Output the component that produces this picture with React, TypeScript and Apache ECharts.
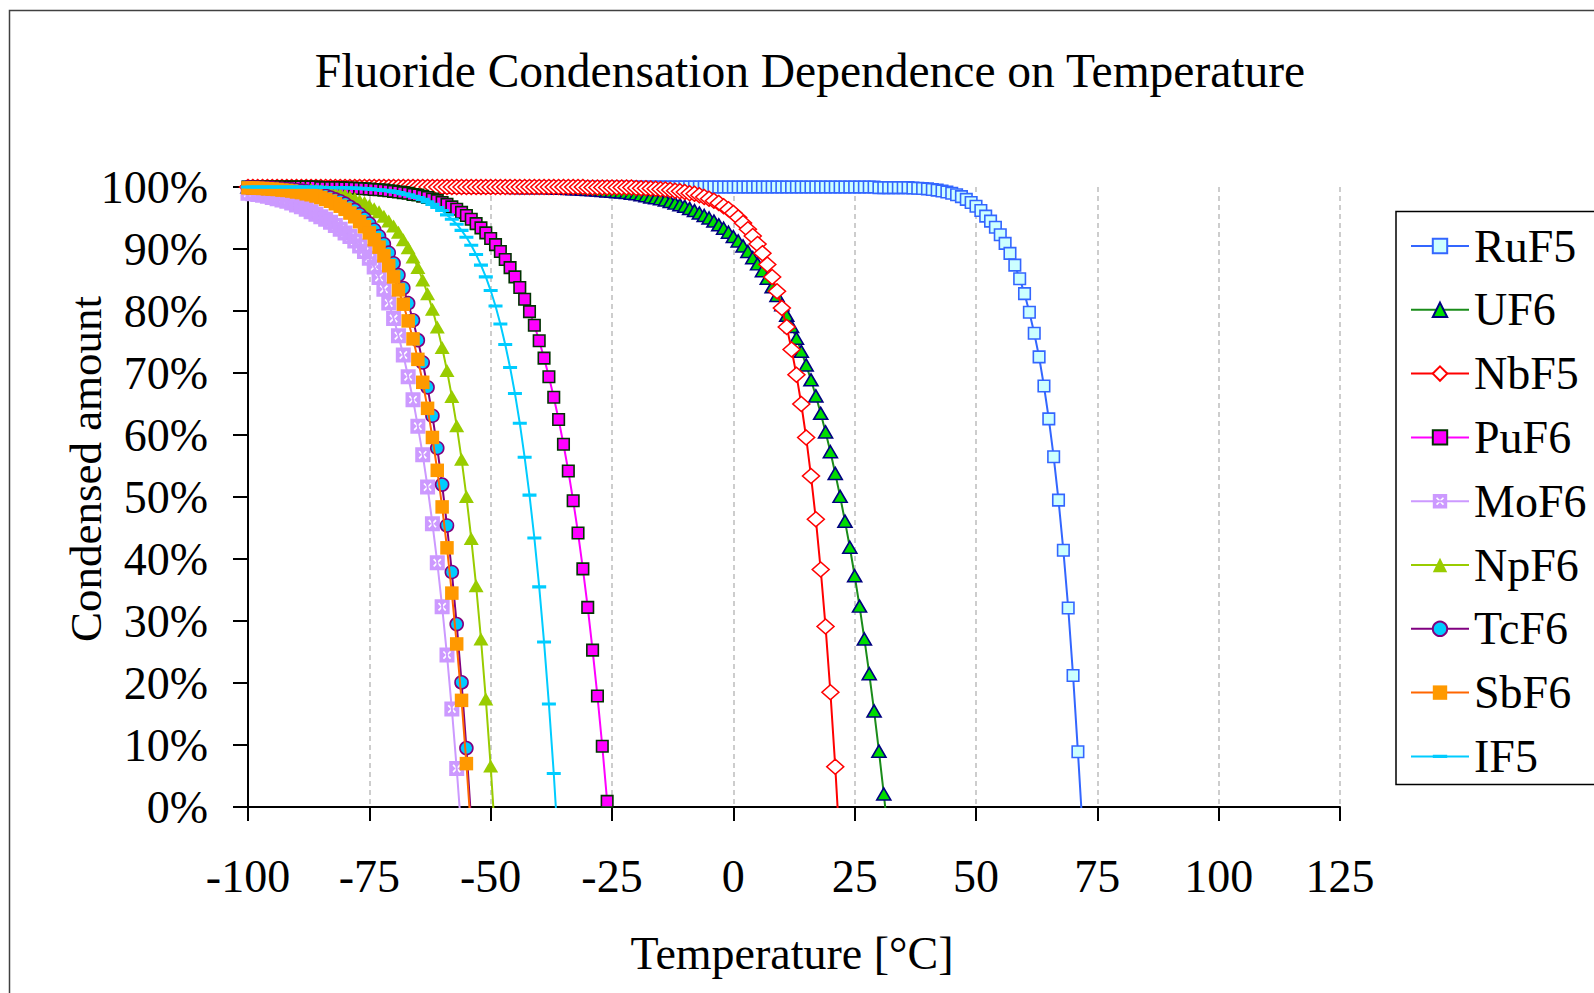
import React, { useEffect, useRef } from "react";
import * as echarts from "echarts";

// Temperatures run from T_START in steps of 1 °C (index i -> T_START + i)
const T_START = -100;

// Condensed amount [%] per series, one row = 10 °C
const RUF5 = [
  100, 100, 100, 100, 100, 100, 100, 100, 100, 100, // -100
  100, 100, 100, 100, 100, 100, 100, 100, 100, 100, // -90
  100, 100, 100, 100, 100, 100, 100, 100, 100, 100, // -80
  100, 100, 100, 100, 100, 100, 100, 100, 100, 100, // -70
  100, 100, 100, 100, 100, 100, 100, 100, 100, 100, // -60
  100, 100, 100, 100, 100, 100, 100, 100, 100, 100, // -50
  100, 100, 100, 100, 100, 100, 100, 100, 100, 100, // -40
  100, 100, 100, 100, 100, 100, 100, 100, 100, 100, // -30
  100, 100, 100, 100, 100, 100, 100, 100, 100, 100, // -20
  100, 100, 100, 100, 100, 100, 100, 100, 100, 100, // -10
  100, 100, 100, 100, 100, 100, 100, 100, 100, 100, // 0
  100, 100, 100, 100, 100, 100, 100, 100, 100, 100, // 10
  100, 100, 100, 100, 100, 100, 100, 100, 100, 100, // 20
  99.9, 99.9, 99.9, 99.9, 99.9, 99.9, 99.9, 99.85, 99.8, 99.75, // 30
  99.7, 99.6, 99.5, 99.35, 99.2, 99.0, 98.75, 98.45, 98.0, 97.5, // 40
  96.9, 96.2, 95.3, 94.5, 93.5, 92.3, 90.9, 89.3, 87.4, 85.2, // 50
  82.8, 79.8, 76.4, 72.6, 67.9, 62.6, 56.5, 49.5, 41.4, 32.1, // 60
  21.2, 8.9, -4, // 70
];

const UF6 = [
  100, 100, 100, 100, 100, 100, 100, 100, 100, 100, // -100
  100, 100, 100, 100, 100, 100, 100, 100, 100, 100, // -90
  100, 100, 100, 100, 100, 100, 100, 100, 100, 100, // -80
  100, 100, 100, 100, 100, 100, 100, 100, 100, 100, // -70
  100, 100, 100, 100, 100, 100, 100, 100, 100, 100, // -60
  100, 100, 100, 100, 100, 99.9, 99.9, 99.9, 99.9, 99.9, // -50
  99.9, 99.9, 99.9, 99.85, 99.8, 99.8, 99.75, 99.7, 99.7, 99.65, // -40
  99.6, 99.55, 99.5, 99.45, 99.35, 99.3, 99.25, 99.2, 99.1, 99.0, // -30
  98.9, 98.75, 98.6, 98.4, 98.25, 98.1, 97.9, 97.65, 97.4, 97.15, // -20
  96.9, 96.55, 96.2, 95.8, 95.4, 95.0, 94.5, 93.9, 93.35, 92.7, // -10
  92.0, 91.3, 90.5, 89.6, 88.6, 87.6, 86.5, 85.3, 83.9, 82.5, // 0
  81.0, 79.3, 77.5, 75.6, 73.5, 71.3, 68.9, 66.3, 63.5, 60.5, // 10
  57.3, 53.8, 50.1, 46.1, 41.9, 37.3, 32.4, 27.1, 21.5, 15.5, // 20
  9.0, 2.1, -5.2, // 30
];

const NBF5 = [
  100, 100, 100, 100, 100, 100, 100, 100, 100, 100, // -100
  100, 100, 100, 100, 100, 100, 100, 100, 100, 100, // -90
  100, 100, 100, 100, 100, 100, 100, 100, 100, 100, // -80
  100, 100, 100, 100, 100, 100, 100, 100, 100, 100, // -70
  100, 100, 100, 100, 100, 100, 100, 100, 100, 100, // -60
  100, 100, 100, 100, 100, 100, 100, 100, 100, 100, // -50
  100, 100, 100, 100, 100, 100, 100, 100, 100, 100, // -40
  99.9, 99.9, 99.9, 99.9, 99.9, 99.9, 99.9, 99.9, 99.9, 99.9, // -30
  99.85, 99.8, 99.8, 99.75, 99.7, 99.65, 99.6, 99.5, 99.4, 99.3, // -20
  99.2, 99.0, 98.9, 98.65, 98.4, 98.1, 97.8, 97.4, 96.9, 96.4, // -10
  95.8, 95.1, 94.2, 93.2, 92.1, 90.8, 89.3, 87.5, 85.5, 83.2, // 0
  80.5, 77.4, 73.8, 69.7, 65.0, 59.6, 53.4, 46.4, 38.3, 29.1, // 10
  18.5, 6.5, -7.1, // 20
];

const PUF6 = [
  100, 100, 100, 100, 100, 100, 100, 100, 100, 100, // -100
  100, 100, 100, 100, 100, 99.9, 99.9, 99.9, 99.9, 99.9, // -90
  99.85, 99.83, 99.8, 99.75, 99.72, 99.67, 99.6, 99.55, 99.5, 99.4, // -80
  99.3, 99.2, 99.1, 99.0, 98.8, 98.7, 98.5, 98.3, 98.05, 97.8, // -70
  97.5, 97.2, 96.8, 96.4, 95.9, 95.4, 94.8, 94.1, 93.4, 92.6, // -60
  91.7, 90.7, 89.6, 88.3, 87.0, 85.5, 83.8, 81.9, 79.9, 77.7, // -50
  75.2, 72.4, 69.4, 66.1, 62.5, 58.5, 54.2, 49.4, 44.2, 38.4, // -40
  32.2, 25.3, 17.9, 9.8, 0.9, -8.7, // -30
];

const MOF6 = [
  99.0, 98.9, 98.8, 98.65, 98.5, 98.3, 98.1, 97.9, 97.7, 97.4, // -100
  97.1, 96.8, 96.4, 96.0, 95.6, 95.2, 94.8, 94.3, 93.8, 93.2, // -90
  92.6, 92.0, 91.3, 90.5, 89.6, 88.5, 87.1, 85.4, 83.5, 81.3, // -80
  78.8, 76.0, 72.9, 69.4, 65.7, 61.4, 56.8, 51.6, 45.7, 39.4, // -70
  32.3, 24.5, 15.8, 6.2, -4.3, // -60
];

const NPF6 = [
  99.95, 99.95, 99.9, 99.9, 99.9, 99.9, 99.85, 99.85, 99.8, 99.8, // -100
  99.75, 99.7, 99.65, 99.6, 99.5, 99.4, 99.3, 99.2, 99.0, 98.9, // -90
  98.7, 98.4, 98.15, 97.8, 97.5, 97.0, 96.5, 96.0, 95.3, 94.5, // -80
  93.7, 92.7, 91.5, 90.2, 88.7, 87.0, 85.0, 82.8, 80.3, 77.4, // -70
  74.1, 70.4, 66.2, 61.5, 56.1, 50.1, 43.3, 35.7, 27.1, 17.4, // -60
  6.6, -5.5, // -50
];

const TCF6 = [
  99.92, 99.9, 99.88, 99.86, 99.83, 99.8, 99.75, 99.7, 99.64, 99.6, // -100
  99.5, 99.4, 99.3, 99.1, 99.0, 98.8, 98.6, 98.3, 98.0, 97.7, // -90
  97.3, 96.8, 96.3, 95.6, 94.9, 94.1, 93.1, 92.05, 90.8, 89.4, // -80
  87.7, 85.8, 83.7, 81.25, 78.5, 75.3, 71.7, 67.7, 63.1, 57.9, // -70
  52.0, 45.4, 37.9, 29.5, 20.1, 9.5, -2.4, // -60
];

const SBF6 = [
  99.86, 99.84, 99.8, 99.77, 99.7, 99.67, 99.6, 99.5, 99.45, 99.35, // -100
  99.2, 99.1, 98.9, 98.75, 98.55, 98.3, 98.0, 97.7, 97.3, 96.9, // -90
  96.4, 95.8, 95.2, 94.4, 93.6, 92.6, 91.5, 90.3, 88.9, 87.3, // -80
  85.5, 83.4, 81.1, 78.4, 75.5, 72.2, 68.5, 64.3, 59.6, 54.3, // -70
  48.4, 41.8, 34.5, 26.3, 17.2, 7.0, -4.3, // -60
];

const IF5 = [
  100, 100, 100, 100, 100, 100, 100, 100, 100, 100, // -100
  100, 100, 100, 100, 100, 99.95, 99.93, 99.92, 99.9, 99.9, // -90
  99.87, 99.85, 99.82, 99.78, 99.74, 99.7, 99.6, 99.55, 99.45, 99.4, // -80
  99.25, 99.1, 98.9, 98.75, 98.5, 98.3, 98.0, 97.6, 97.2, 96.7, // -70
  96.2, 95.5, 94.8, 94.0, 93.0, 91.9, 90.6, 89.1, 87.4, 85.5, // -60
  83.3, 80.8, 77.9, 74.6, 70.9, 66.7, 61.9, 56.4, 50.3, 43.4, // -50
  35.5, 26.6, 16.6, 5.4, -7.3, // -40
];

const SERIES_NAMES = ["RuF5", "UF6", "NbF5", "PuF6", "MoF6", "NpF6", "TcF6", "SbF6", "IF5"];
const SERIES_VALUES = [RUF5, UF6, NBF5, PUF6, MOF6, NPF6, TCF6, SBF6, IF5];

const X_MIN = -100;
const X_MAX = 125;
const X_STEP = 25;
const Y_MIN = 0;
const Y_MAX = 100;
const Y_STEP = 10;

const TITLE = "Fluoride Condensation Dependence on Temperature";
const X_NAME = "Temperature [°C]";
const Y_NAME = "Condensed amount";

const FONT = "'Liberation Serif', 'Times New Roman', serif";

const MOF6_SYMBOL =
  "path://M0 0H100V100H0Z M22 30L42 50L22 70L30 78L50 58L70 78L78 70L58 50L78 30L70 22L50 42L30 22Z";
const DASH_SYMBOL =
  "path://M0 0L0.1 0L0 0.1Z M0 39H100V61H0Z M100 100L99.9 100L100 99.9Z";

const STYLES: any[] = [
  { line: "#3366FF", symbol: "rect", size: 11.5, fill: "#CCFFFF", border: "#3366FF", bw: 1.6 },
  { line: "#1A8C1A", symbol: "triangle", size: [14, 12], fill: "#00DD00", border: "#000080", bw: 1.6 },
  { line: "#FF0000", symbol: "diamond", size: [17, 15], fill: "#FFFFFF", border: "#FF0000", bw: 1.5 },
  { line: "#FF00FF", symbol: "rect", size: 11.5, fill: "#FF00FF", border: "#003300", bw: 1.6 },
  { line: "#CC99FF", symbol: MOF6_SYMBOL, size: 15, fill: "#CC99FF", border: "#CC99FF", bw: 0 },
  { line: "#99CC00", symbol: "triangle", size: [15, 13], fill: "#99CC00", border: "#99CC00", bw: 0 },
  { line: "#800080", symbol: "circle", size: 13, fill: "#00CCFF", border: "#800080", bw: 1.6 },
  { line: "#FF6600", symbol: "rect", size: 13.5, fill: "#FF9900", border: "#FF9900", bw: 0 },
  { line: "#00CCFF", symbol: DASH_SYMBOL, size: 14, fill: "#00CCFF", border: "#00CCFF", bw: 0 },
];

export default function App() {
  const ref = useRef<HTMLDivElement>(null);

  useEffect(() => {
    if (!ref.current) return;
    const chart = echarts.init(ref.current, null, { renderer: "svg", width: 1594, height: 993 });

    const series = SERIES_NAMES.map((name, k) => {
      const st = STYLES[k];
      return {
        name,
        type: "line",
        data: SERIES_VALUES[k].map((v, i) => [T_START + i, v]),
        clip: true,
        symbol: st.symbol,
        symbolSize: st.size,
        lineStyle: { color: st.line, width: 2 },
        itemStyle: { color: st.fill, borderColor: st.border, borderWidth: st.bw },
        emphasis: { disabled: true },
        z: 2 + k * 0.01,
      };
    });

    chart.setOption({
      animation: false,
      backgroundColor: "#ffffff",
      grid: { left: 248, top: 187, width: 1092, height: 620, containLabel: false },
      xAxis: {
        type: "value",
        min: X_MIN,
        max: X_MAX,
        interval: X_STEP,
        axisLine: { show: true, onZero: false, lineStyle: { color: "#000", width: 2 } },
        axisTick: { show: true, inside: false, length: 14, lineStyle: { color: "#000", width: 2 } },
        axisLabel: { fontFamily: FONT, fontSize: 46, color: "#000", margin: 46 },
        splitLine: { show: true, lineStyle: { color: "#BDBDBD", width: 1.5, type: [5, 4] } },
      },
      yAxis: {
        type: "value",
        min: Y_MIN,
        max: Y_MAX,
        interval: Y_STEP,
        axisLine: { show: true, onZero: false, lineStyle: { color: "#000", width: 2 } },
        axisTick: { show: true, inside: false, length: 15, lineStyle: { color: "#000", width: 2 } },
        axisLabel: { fontFamily: FONT, fontSize: 46, color: "#000", margin: 40, formatter: "{value}%" },
        splitLine: { show: false },
      },
      legend: {
        data: SERIES_NAMES,
        orient: "vertical",
        left: 1396,
        top: 211.5,
        itemWidth: 58,
        itemHeight: 18,
        itemGap: 7.8,
        padding: [6.5, 200, 0, 14],
        borderColor: "#000",
        borderWidth: 1.5,
        backgroundColor: "#ffffff",
        selectedMode: false,
        textStyle: { fontFamily: FONT, fontSize: 46, color: "#000", lineHeight: 56 },
      },
      graphic: [
        {
          type: "rect",
          silent: true,
          z: -10,
          shape: { x: 9.5, y: 10.5, width: 2000, height: 2000 },
          style: { fill: "none", stroke: "#404040", lineWidth: 1.5 },
        },
        {
          type: "text",
          silent: true,
          x: 810,
          y: 71,
          style: { text: TITLE, fontFamily: FONT, fontSize: 47.5, fill: "#000", align: "center", verticalAlign: "middle" },
        },
        {
          type: "text",
          silent: true,
          x: 792,
          y: 953,
          style: { text: X_NAME, fontFamily: FONT, fontSize: 46, fill: "#000", align: "center", verticalAlign: "middle" },
        },
        {
          type: "text",
          silent: true,
          x: 86,
          y: 469,
          rotation: Math.PI / 2,
          style: { text: Y_NAME, fontFamily: FONT, fontSize: 45, fill: "#000", align: "center", verticalAlign: "middle" },
        },
      ],
      series,
    });

    return () => {
      chart.dispose();
    };
  }, []);

  return (
    <div
      ref={ref}
      style={{ position: "absolute", left: 0, top: 0, width: 1594, height: 993, background: "#fff" }}
    />
  );
}
